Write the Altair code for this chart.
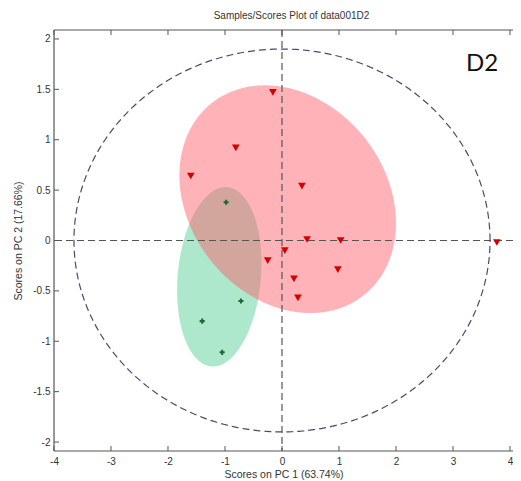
import altair as alt
import numpy as np
import pandas as pd

# ---- data ----
red_x = [-0.16, -0.81, -1.60, 0.35, 0.44, 1.03, 0.05, -0.25, 0.21, 0.98, 0.28, 3.77]
red_y = [1.47, 0.92, 0.64, 0.54, 0.01, 0.00, -0.10, -0.20, -0.38, -0.29, -0.57, -0.02]
green_x = [-0.98, -0.72, -1.40, -1.05]
green_y = [0.38, -0.60, -0.80, -1.11]

# ellipse params: centre x, centre y, half-extent x, half-extent y, correlation
red_ell = [0.10, 0.41, 1.90, 1.13, -0.21]
green_ell = [-1.10, -0.36, 0.74, 0.89, 0.15]
limit_ell = [0.0, 0.0, 3.65, 1.90, 0.0]

x_ticks = [-4, -3, -2, -1, 0, 1, 2, 3, 4]
y_ticks = [-2, -1.5, -1, -0.5, 0, 0.5, 1, 1.5, 2]

title_text = "Samples/Scores Plot of data001D2"
x_title = "Scores on PC 1 (63.74%)"
y_title = "Scores on PC 2 (17.66%)"
label_text = "D2"
label_pos = [3.51, 1.75]

W, H = 459, 421
xs = alt.Scale(domain=[-4, 4.053], nice=False, zero=False)
ys = alt.Scale(domain=[-2.089, 2.089], nice=False, zero=False)


def ellipse_band(p, n=240):
    cx, cy, rx, ry, rho = p
    u = np.cos(np.linspace(np.pi, 0, n))
    s = np.sqrt(1 - rho ** 2)
    w = np.sqrt(np.clip(1 - u ** 2, 0, None))
    return pd.DataFrame({
        "x": cx + rx * u,
        "top": cy + ry * (rho * u + s * w),
        "bot": cy + ry * (rho * u - s * w),
    })


def ellipse_ring(p, n=360):
    cx, cy, rx, ry, rho = p
    t = np.linspace(0, 2 * np.pi, n)
    s = np.sqrt(1 - rho ** 2)
    return pd.DataFrame({
        "x": cx + rx * np.cos(t),
        "y": cy + ry * (rho * np.cos(t) + s * np.sin(t)),
        "o": np.arange(n),
    })


green_area = alt.Chart(ellipse_band(green_ell)).mark_area(
    color="#aee8cc", opacity=1
).encode(
    x=alt.X("x:Q", scale=xs, axis=alt.Axis(values=x_ticks, labelExpr="datum.value + ''",
                                          title=x_title, grid=False, ticks=False, domain=False,
                                          labelPadding=5, titlePadding=3, labelFlush=False)),
    y=alt.Y("top:Q", scale=ys, axis=alt.Axis(values=y_ticks, labelExpr="datum.value + ''",
                                            title=y_title, grid=False, ticks=False, domain=False,
                                            labelPadding=4, titlePadding=9)),
    y2="bot:Q",
)

red_area = alt.Chart(ellipse_band(red_ell)).mark_area(
    color="#ff5762", opacity=0.45
).encode(
    x=alt.X("x:Q", scale=xs),
    y=alt.Y("top:Q", scale=ys),
    y2="bot:Q",
)

ring = alt.Chart(ellipse_ring(limit_ell)).mark_line(
    color="#4a4a6e", strokeDash=[7, 4], strokeWidth=1.2
).encode(
    x=alt.X("x:Q", scale=xs),
    y=alt.Y("y:Q", scale=ys),
    order="o:Q",
)

zero_df = pd.DataFrame({"v": [0]})
vline = alt.Chart(zero_df).mark_rule(color="#555555", strokeDash=[7, 4], strokeWidth=1.2).encode(
    x=alt.X("v:Q", scale=xs)
)
hline = alt.Chart(zero_df).mark_rule(color="#555555", strokeDash=[7, 4], strokeWidth=1.2).encode(
    y=alt.Y("v:Q", scale=ys)
)

# frame (left, top, bottom; the right side is cut off in the reference)
frame_df = pd.DataFrame({"v": [0]})
frame_left = alt.Chart(frame_df).mark_rule(color="#555555", strokeWidth=1.2).encode(
    x=alt.value(0), y=alt.value(0), y2=alt.value(H)
)
frame_top = alt.Chart(frame_df).mark_rule(color="#555555", strokeWidth=1).encode(
    x=alt.value(0), x2=alt.value(W), y=alt.value(0)
)
frame_bot = alt.Chart(frame_df).mark_rule(color="#555555", strokeWidth=1.2).encode(
    x=alt.value(0), x2=alt.value(W), y=alt.value(H)
)

xt_df = pd.DataFrame({"v": x_ticks})
yt_df = pd.DataFrame({"v": y_ticks})
xt_bot = alt.Chart(xt_df).mark_rule(color="#555555", strokeWidth=1).encode(
    x=alt.X("v:Q", scale=xs), y=alt.value(H), y2=alt.value(H - 5)
)
xt_top = alt.Chart(xt_df).mark_rule(color="#555555", strokeWidth=1).encode(
    x=alt.X("v:Q", scale=xs), y=alt.value(0), y2=alt.value(5)
)
yt_left = alt.Chart(yt_df).mark_rule(color="#555555", strokeWidth=1).encode(
    y=alt.Y("v:Q", scale=ys), x=alt.value(0), x2=alt.value(5)
)

red_pts = alt.Chart(pd.DataFrame({"x": red_x, "y": red_y})).mark_point(
    shape="triangle-down", filled=True, color="#d40000", size=60, opacity=1
).encode(x=alt.X("x:Q", scale=xs), y=alt.Y("y:Q", scale=ys))

green_pts = alt.Chart(pd.DataFrame({"x": green_x, "y": green_y})).mark_point(
    shape="cross", filled=True, color="#1d6b34", size=26, opacity=1
).encode(x=alt.X("x:Q", scale=xs), y=alt.Y("y:Q", scale=ys))

label = alt.Chart(pd.DataFrame({"x": [label_pos[0]], "y": [label_pos[1]], "t": [label_text]})).mark_text(
    font="Lato", fontSize=24, color="#111111", align="center", baseline="middle"
).encode(x=alt.X("x:Q", scale=xs), y=alt.Y("y:Q", scale=ys), text="t:N")

chart = alt.layer(
    green_area, red_area, ring, vline, hline, frame_left, frame_top, frame_bot,
    xt_bot, xt_top, yt_left, red_pts, green_pts, label
).properties(
    width=W, height=H,
    title=alt.TitleParams(title_text, font="Liberation Sans", fontSize=10, fontWeight="normal",
                          color="#333333", offset=8, dx=8),
    padding={"left": 46, "top": 22, "right": 0, "bottom": 30},
    autosize=alt.AutoSizeParams(type="none"),
).configure_view(
    stroke=None
).configure_axis(
    labelFont="Liberation Sans", labelFontSize=10, labelColor="#333333",
    titleFont="Liberation Sans", titleFontSize=10.5, titleFontWeight="normal", titleColor="#333333",
)

chart.save("out.html", embed_options={"renderer": "svg", "actions": False})
